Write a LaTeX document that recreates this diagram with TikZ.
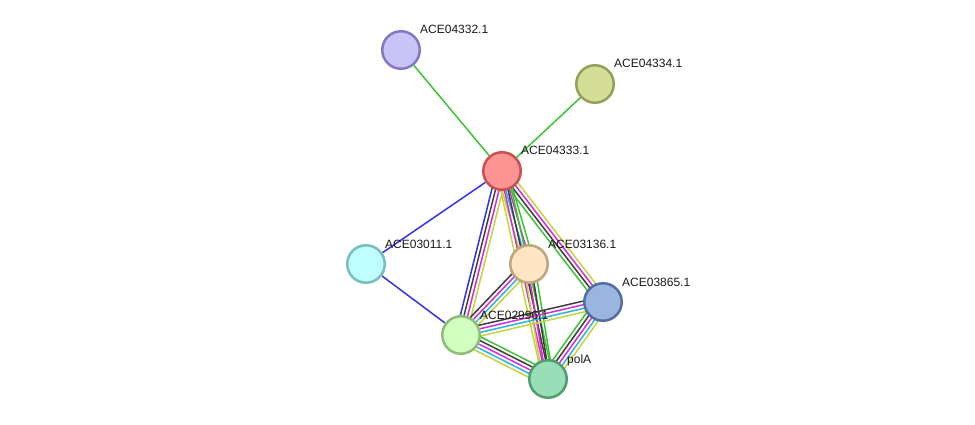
\documentclass[tikz,border=0pt]{standalone}
\usepackage{fontspec}
\setmainfont{Liberation Sans}
\usetikzlibrary{calc,backgrounds}
% protein colours
\definecolor{F04332}{RGB}{200,196,248}
\definecolor{D04332}{RGB}{130,120,195}
\definecolor{F04334}{RGB}{212,222,150}
\definecolor{D04334}{RGB}{148,160,88}
\definecolor{F04333}{RGB}{252,148,148}
\definecolor{D04333}{RGB}{200,80,80}
\definecolor{F03011}{RGB}{192,255,255}
\definecolor{D03011}{RGB}{120,190,190}
\definecolor{F03136}{RGB}{255,228,196}
\definecolor{D03136}{RGB}{190,165,125}
\definecolor{F03865}{RGB}{156,180,224}
\definecolor{D03865}{RGB}{82,110,160}
\definecolor{F02996}{RGB}{208,255,192}
\definecolor{D02996}{RGB}{140,190,120}
\definecolor{FpolA}{RGB}{152,222,182}
\definecolor{DpolA}{RGB}{85,155,110}
% evidence colours
\definecolor{EvGreen}{RGB}{60,195,50}
\definecolor{EvBlue}{RGB}{50,50,235}
\definecolor{EvBlack}{RGB}{60,60,60}
\definecolor{EvMagenta}{RGB}{220,40,220}
\definecolor{EvCyan}{RGB}{40,180,230}
\definecolor{EvYellow}{RGB}{195,212,60}

\newcommand{\bundle}[4]{%
  \foreach \c [count=\i] in {#4}{
    \pgfmathsetmacro{\o}{(\i-1)*3.6-(#3-1)*1.8}
    \draw[edge,\c] ($(#1)!\o pt!90:(#2)$) -- ($(#2)!\o pt!-90:(#1)$);
  }}

\begin{document}
\begin{tikzpicture}[x=1pt,y=-1pt,
  prot/.style={circle,minimum size=37.5pt,inner sep=0pt,line width=2.5pt},
  lbl/.style={anchor=base west,inner sep=0pt,font=\fontsize{12}{14}\selectfont,text=black!90},
  edge/.style={line width=1.5pt}]
\useasboundingbox (0,0) rectangle (975,425);

\foreach \n/\x/\y/\t in {04332/401/50/ACE04332.1,04334/595/84/ACE04334.1,
  04333/502/171/ACE04333.1,03011/366/264/ACE03011.1,03136/529/264/ACE03136.1,
  03865/603/302/ACE03865.1,02996/461/335/ACE02996.1,polA/548/379/polA}{
  \node[prot,fill=F\n,draw=D\n] (n\n) at (\x,\y) {};
  \node[lbl] (l\n) at ($(n\n)+(19,-16)$) {\t};
}

\begin{scope}[on background layer]
\draw[edge,EvGreen] (n04332) -- (n04333);
\draw[edge,EvGreen] (n04334) -- (n04333);
\draw[edge,EvBlue] (n04333) -- (n03011);
\draw[edge,EvBlue] (n03011) -- (n02996);
\bundle{n04333}{n02996}{4}{EvBlue,EvBlack,EvMagenta,EvYellow}
\bundle{n04333}{n03865}{4}{EvGreen,EvBlack,EvMagenta,EvYellow}
\bundle{n04333}{n03136}{4}{EvYellow,EvCyan,EvMagenta,EvGreen}
\bundle{n04333}{npolA}{4}{EvYellow,EvMagenta,EvBlack,EvGreen}
\bundle{n03136}{npolA}{4}{EvYellow,EvMagenta,EvBlack,EvGreen}
\bundle{n03136}{n02996}{4}{EvBlack,EvMagenta,EvCyan,EvYellow}
\bundle{n02996}{n03865}{4}{EvYellow,EvCyan,EvMagenta,EvBlack}
\bundle{n02996}{npolA}{5}{EvYellow,EvCyan,EvMagenta,EvBlack,EvGreen}
\bundle{n03865}{npolA}{5}{EvGreen,EvBlack,EvMagenta,EvCyan,EvYellow}
\end{scope}
\end{tikzpicture}
\end{document}
